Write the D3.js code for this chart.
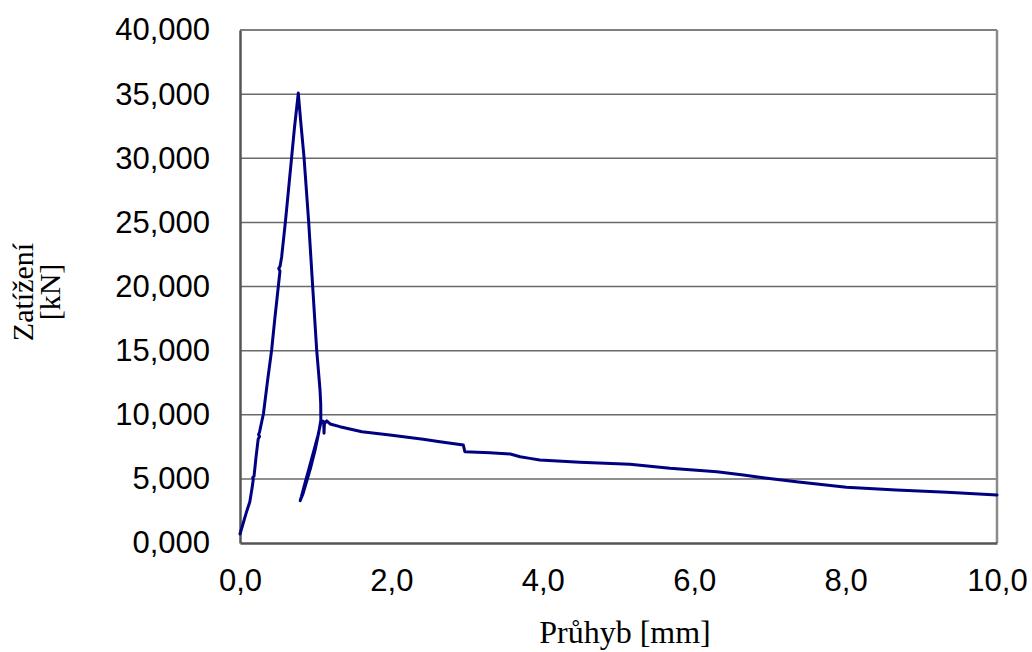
<!DOCTYPE html>
<html>
<head>
<meta charset="utf-8">
<script src="https://cdn.jsdelivr.net/npm/d3@7"></script>
<style>
  body { margin: 0; background: #fff; }
  svg { display: block; }
</style>
</head>
<body>
<div id="chart"></div>
<script>
// load-deflection curve, deflection in mm, load in kN
const deflection = [
  0.0, 0.04, 0.09, 0.13, 0.16, 0.175, 0.168, 0.185, 0.21, 0.24, 0.258, 0.245, 0.26, 0.31, 0.365, 0.418,
  0.46, 0.506, 0.528, 0.512, 0.53, 0.55, 0.60, 0.64, 0.683, 0.72, 0.77,
  0.80, 0.845, 0.907, 0.96, 1.013, 1.057, 1.066, 1.068,
  1.04, 0.99, 0.93, 0.87, 0.83, 0.795,
  0.81, 0.86, 0.92, 0.98, 1.03, 1.07,
  1.10, 1.105, 1.11, 1.115, 1.145, 1.19, 1.32, 1.61, 1.98, 2.42, 2.64, 2.95, 2.97, 3.30, 3.57, 3.70,
  3.83, 3.96, 4.49, 5.15, 5.68, 6.30, 6.65, 6.91, 7.35, 8.01, 8.67, 9.34, 10.0
]
const load = [
  0.70, 1.5, 2.5, 3.22, 4.3, 4.95, 5.1, 5.2, 6.6, 8.1, 8.3, 8.45, 8.7, 10.1, 12.7, 15.05,
  17.5, 20.0, 21.2, 21.4, 21.6, 22.3, 25.06, 27.5, 30.13, 32.4, 35.08,
  33.0, 30.13, 25.06, 20.0, 15.05, 11.93, 10.9, 9.6,
  8.6, 7.2, 5.8, 4.6, 3.8, 3.3,
  3.6, 4.7, 6.0, 7.3, 8.4, 9.45,
  9.5, 9.45, 8.56, 9.3, 9.52, 9.28, 9.07, 8.68, 8.42, 8.09, 7.9, 7.64, 7.12, 7.04, 6.94, 6.73,
  6.6, 6.47, 6.29, 6.14, 5.83, 5.56, 5.30, 5.09, 4.78, 4.34, 4.13, 3.95, 3.74
]

const xTicks = [0, 2, 4, 6, 8, 10]
const yTicks = [0, 5, 10, 15, 20, 25, 30, 35, 40]
const xTitle = "Průhyb [mm]"
const yTitle = ["Zatížení", "[kN]"]

const width = 1032
const height = 652
const margin = {top: 30, right: 35, bottom: 109, left: 240}

const locale = d3.formatLocale({decimal: ",", thousands: " ", grouping: [3], currency: ["", ""]})
const fmtX = locale.format(".1f")
const fmtY = locale.format(".3f")

const x = d3.scaleLinear().domain([0, 10]).range([margin.left, width - margin.right])
const y = d3.scaleLinear().domain([0, 40]).range([height - margin.bottom, margin.top])

const svg = d3.select("#chart")
  .append("svg")
  .attr("width", width)
  .attr("height", height)

// horizontal grid
svg.append("g")
  .selectAll("line")
  .data(yTicks.slice(1, -1))
  .join("line")
    .attr("x1", x(0))
    .attr("x2", x(10))
    .attr("y1", d => y(d))
    .attr("y2", d => y(d))
    .attr("stroke", "#6a6a6a")
    .attr("stroke-width", 1.5)

// frame
svg.append("line")
  .attr("x1", x(0)).attr("x2", x(10)).attr("y1", y(40)).attr("y2", y(40))
  .attr("stroke", "#808080").attr("stroke-width", 2)
svg.append("line")
  .attr("x1", x(10)).attr("x2", x(10)).attr("y1", y(40)).attr("y2", y(0))
  .attr("stroke", "#8a8a8a").attr("stroke-width", 2.5)

const yAxis = svg.append("g")
  .attr("transform", `translate(${x(0)},0)`)
  .call(d3.axisLeft(y).tickValues(yTicks).tickFormat(fmtY).tickSize(0).tickPadding(30))
const xAxis = svg.append("g")
  .attr("transform", `translate(0,${y(0)})`)
  .call(d3.axisBottom(x).tickValues(xTicks).tickFormat(fmtX).tickSize(0).tickPadding(26))

;[xAxis, yAxis].forEach(a => {
  a.select(".domain").attr("stroke", "#555").attr("stroke-width", 2.5)
  a.selectAll("text")
    .attr("fill", "#000")
    .style("font-family", "'Liberation Sans', Arial, sans-serif")
    .style("font-size", "31px")
})

// curve
const pts = deflection.map((d, i) => [d, load[i]])
svg.append("path")
  .datum(pts)
  .attr("fill", "none")
  .attr("stroke", "#000080")
  .attr("stroke-width", 3)
  .attr("stroke-linejoin", "round")
  .attr("stroke-linecap", "round")
  .attr("d", d3.line().x(d => x(d[0])).y(d => y(d[1])))

// titles
svg.append("text")
  .attr("x", 625)
  .attr("y", 643)
  .attr("text-anchor", "middle")
  .style("font-family", "'Liberation Serif', 'Times New Roman', serif")
  .style("font-size", "32px")
  .text(xTitle)

const yt = svg.append("text")
  .attr("transform", "translate(33,292) rotate(-90)")
  .attr("text-anchor", "middle")
  .style("font-family", "'Liberation Serif', 'Times New Roman', serif")
  .style("font-size", "30px")
yt.selectAll("tspan")
  .data(yTitle)
  .join("tspan")
    .attr("x", 0)
    .attr("dy", (d, i) => i ? 27 : 0)
    .text(d => d)
</script>
</body>
</html>
